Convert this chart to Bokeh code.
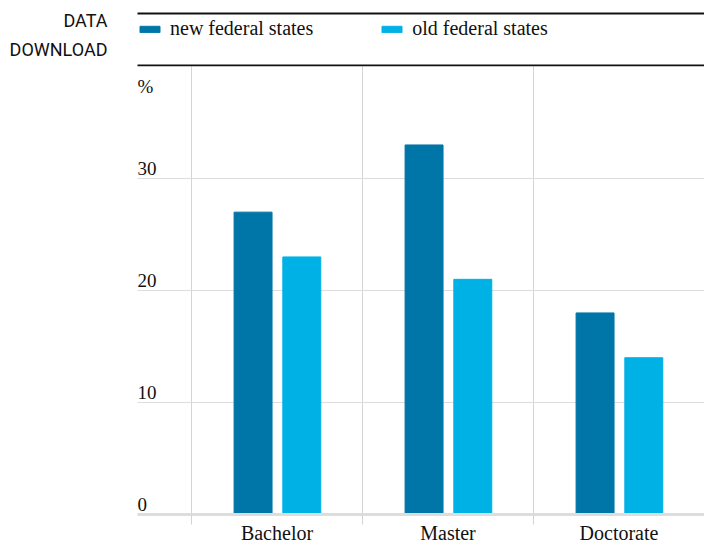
from bokeh.plotting import figure
from bokeh.models import (ColumnDataSource, Range1d, FixedTicker, Legend, LegendItem,
                          Label, BoxAnnotation)
from bokeh.transform import dodge
from bokeh.core.properties import value
from bokeh.embed import file_html
from bokeh.resources import INLINE

categories = ["Bachelor", "Master", "Doctorate"]
new_states = [27, 33, 18]
old_states = [23, 21, 14]
series_names = ["new federal states", "old federal states"]
y_ticks = [0, 10, 20, 30]
y_labels = ["0", "10", "20", "30"]
unit_label = "%"
header_lines = ["DATA", "DOWNLOAD"]

C_NEW = "#0076a8"
C_OLD = "#00b1e6"
SERIF = "Liberation Serif"
W, H = 704, 546
BOTTOM = 31

# pixel scales
PX_X = 171.0   # px per category
PX_Y = 11.22   # px per percent
x_end = len(categories)
x_fig0 = x_end - W / PX_X            # left edge of the figure
x_plot0 = x_end - 567 / PX_X         # left edge of the chart area
y_fig1 = (H - BOTTOM) / PX_Y         # top edge of the figure
y_plot1 = 449 / PX_Y                 # top edge of the chart area


def ypx(px_from_top):
    return (H - BOTTOM - px_from_top) / PX_Y


pos = [i + 0.5 for i in range(len(categories))]
src = ColumnDataSource(dict(x=pos, new=new_states, old=old_states, cat=categories))

p = figure(width=W, height=H, output_backend="svg", toolbar_location=None,
           x_range=Range1d(x_fig0, x_end), y_range=Range1d(0, y_fig1),
           min_border_left=0, min_border_right=0, min_border_top=0,
           min_border_bottom=BOTTOM)
p.outline_line_color = None

r_new = p.vbar(x=dodge("x", -0.14, range=p.x_range), top="new", width=0.222,
               source=src, color=C_NEW)
r_old = p.vbar(x=dodge("x", 0.145, range=p.x_range), top="old", width=0.222,
               source=src, color=C_OLD)

# x axis
xt = FixedTicker(ticks=pos, minor_ticks=list(range(len(categories))))
p.xaxis.ticker = xt
p.xaxis.bounds = (x_plot0, x_end)
p.xaxis.major_label_overrides = {pp: c for pp, c in zip(pos, categories)}
p.xaxis.major_tick_line_color = None
p.xaxis.major_tick_out = 0
p.xaxis.major_tick_in = 0
p.xaxis.minor_tick_line_color = "#d4d4d4"
p.xaxis.minor_tick_in = 0
p.xaxis.minor_tick_out = 10
p.xaxis.axis_line_color = "#dddddd"
p.xaxis.axis_line_width = 3
p.xaxis.major_label_text_font = SERIF
p.xaxis.major_label_text_font_size = "20px"
p.xaxis.major_label_text_color = "#111111"
p.xaxis.major_label_standoff = -3
p.xgrid.grid_line_color = None
p.xgrid.minor_grid_line_color = "#d4d4d4"

# y axis / grid
p.yaxis.visible = False
p.ygrid.ticker = FixedTicker(ticks=y_ticks)
p.ygrid.grid_line_color = "#dddddd"

# mask the grid outside the chart area
p.add_layout(BoxAnnotation(right=x_plot0, fill_color="white", fill_alpha=1,
                           line_color=None, level="underlay"))
p.add_layout(BoxAnnotation(bottom=y_plot1, fill_color="white", fill_alpha=1,
                           line_color=None, level="underlay"))

# y tick labels
p.text(x=[x_plot0] * len(y_ticks), y=y_ticks, text=y_labels,
       text_font=value(SERIF), text_font_size="19px", text_color="#111111",
       text_baseline="bottom", text_align="left", y_offset=-4)
p.add_layout(Label(x=x_plot0, y=ypx(86), text=unit_label, text_font=SERIF,
                   text_font_size="19px", text_color="#111111",
                   text_baseline="middle", text_align="left"))

# header rules
p.add_layout(BoxAnnotation(left=x_plot0, bottom=y_plot1, top=y_plot1 + 2 / PX_Y,
                           fill_color="#111111", fill_alpha=1, line_color=None))
p.add_layout(BoxAnnotation(left=x_plot0, bottom=ypx(14), top=ypx(12),
                           fill_color="#111111", fill_alpha=1, line_color=None))

legend = Legend(items=[LegendItem(label=series_names[0], renderers=[r_new]),
                       LegendItem(label=series_names[1], renderers=[r_old])],
                orientation="horizontal", location=(137, H - BOTTOM - 41),
                label_text_font=SERIF, label_text_font_size="20px",
                label_text_color="#111111", glyph_width=25, glyph_height=8,
                spacing=66, padding=0, margin=0, border_line_color=None,
                background_fill_alpha=0, label_standoff=8)
p.add_layout(legend)

for txt, yy in zip(header_lines, (ypx(20), ypx(49))):
    p.add_layout(Label(x=x_fig0 + 107 / PX_X, y=yy, text=txt, text_font="Roboto",
                       text_font_size="18px", text_color="#111111",
                       text_align="right", text_baseline="middle"))

open("out.html", "w").write(file_html(p, INLINE))
